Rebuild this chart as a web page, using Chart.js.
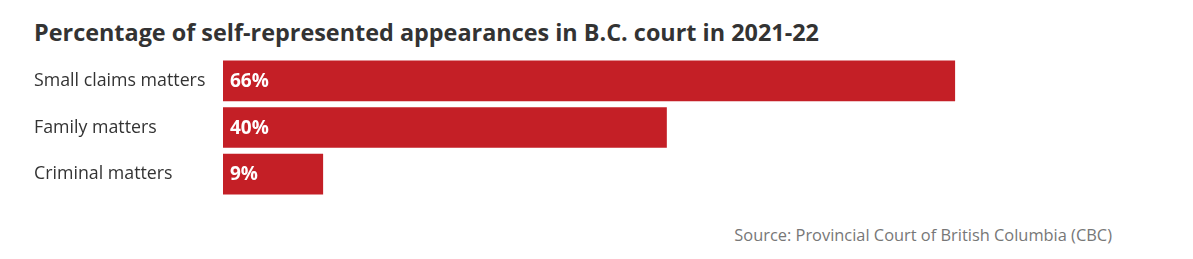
<!DOCTYPE html>
<html>
<head>
<meta charset="utf-8">
<script src="https://cdn.jsdelivr.net/npm/chart.js@4"></script>
<style>
  body { margin: 0; background: #fff; width: 1193px; height: 259px; position: relative; overflow: hidden; }
  #title { position: absolute; left: 34px; top: 16px; font: bold 23.4px "Open Sans", sans-serif; color: #333; }
  #chart-wrap { position: absolute; left: 0; top: 44px; width: 1193px; height: 167px; }
  #source { position: absolute; right: 81px; top: 223px; font: 16.4px "Open Sans", sans-serif; color: #777; }
</style>
</head>
<body>
<div id="title">Percentage of self-represented appearances in B.C. court in 2021-22</div>
<div id="chart-wrap"><canvas id="chart"></canvas></div>
<div id="source">Source: Provincial Court of British Columbia (CBC)</div>
<script>
// data
const categories = ["Small claims matters", "Family matters", "Criminal matters"];
const percentValues = [66, 40, 9];

// white value labels inside the bars
const valueLabels = {
  id: "valueLabels",
  afterDatasetsDraw(chart) {
    const ctx = chart.ctx;
    const meta = chart.getDatasetMeta(0);
    ctx.save();
    ctx.fillStyle = "#fff";
    ctx.font = "bold 19px 'Open Sans', sans-serif";
    ctx.textBaseline = "middle";
    ctx.textAlign = "left";
    meta.data.forEach((bar, i) => {
      ctx.fillText(percentValues[i] + "%", bar.base + 7, bar.y + 1);
    });
    ctx.restore();
  }
};

const ctx = document.getElementById("chart").getContext("2d");
new Chart(ctx, {
  type: "bar",
  data: {
    labels: categories,
    datasets: [{
      data: percentValues,
      backgroundColor: "#c41f26",
      barThickness: 40
    }]
  },
  plugins: [valueLabels],
  options: {
    indexAxis: "y",
    responsive: true,
    maintainAspectRatio: false,
    animation: false,
    layout: { padding: { left: 34, right: 83, top: 0, bottom: 0 } },
    plugins: { legend: { display: false }, tooltip: { enabled: false } },
    scales: {
      x: {
        min: 0,
        max: 80,
        display: false
      },
      y: {
        grid: { display: false },
        border: { display: false },
        afterFit(scale) { scale.width = 189; },
        ticks: {
          crossAlign: "far",
          color: "#333",
          font: { family: "Open Sans", size: 17.8 }
        }
      }
    }
  }
});
</script>
</body>
</html>
